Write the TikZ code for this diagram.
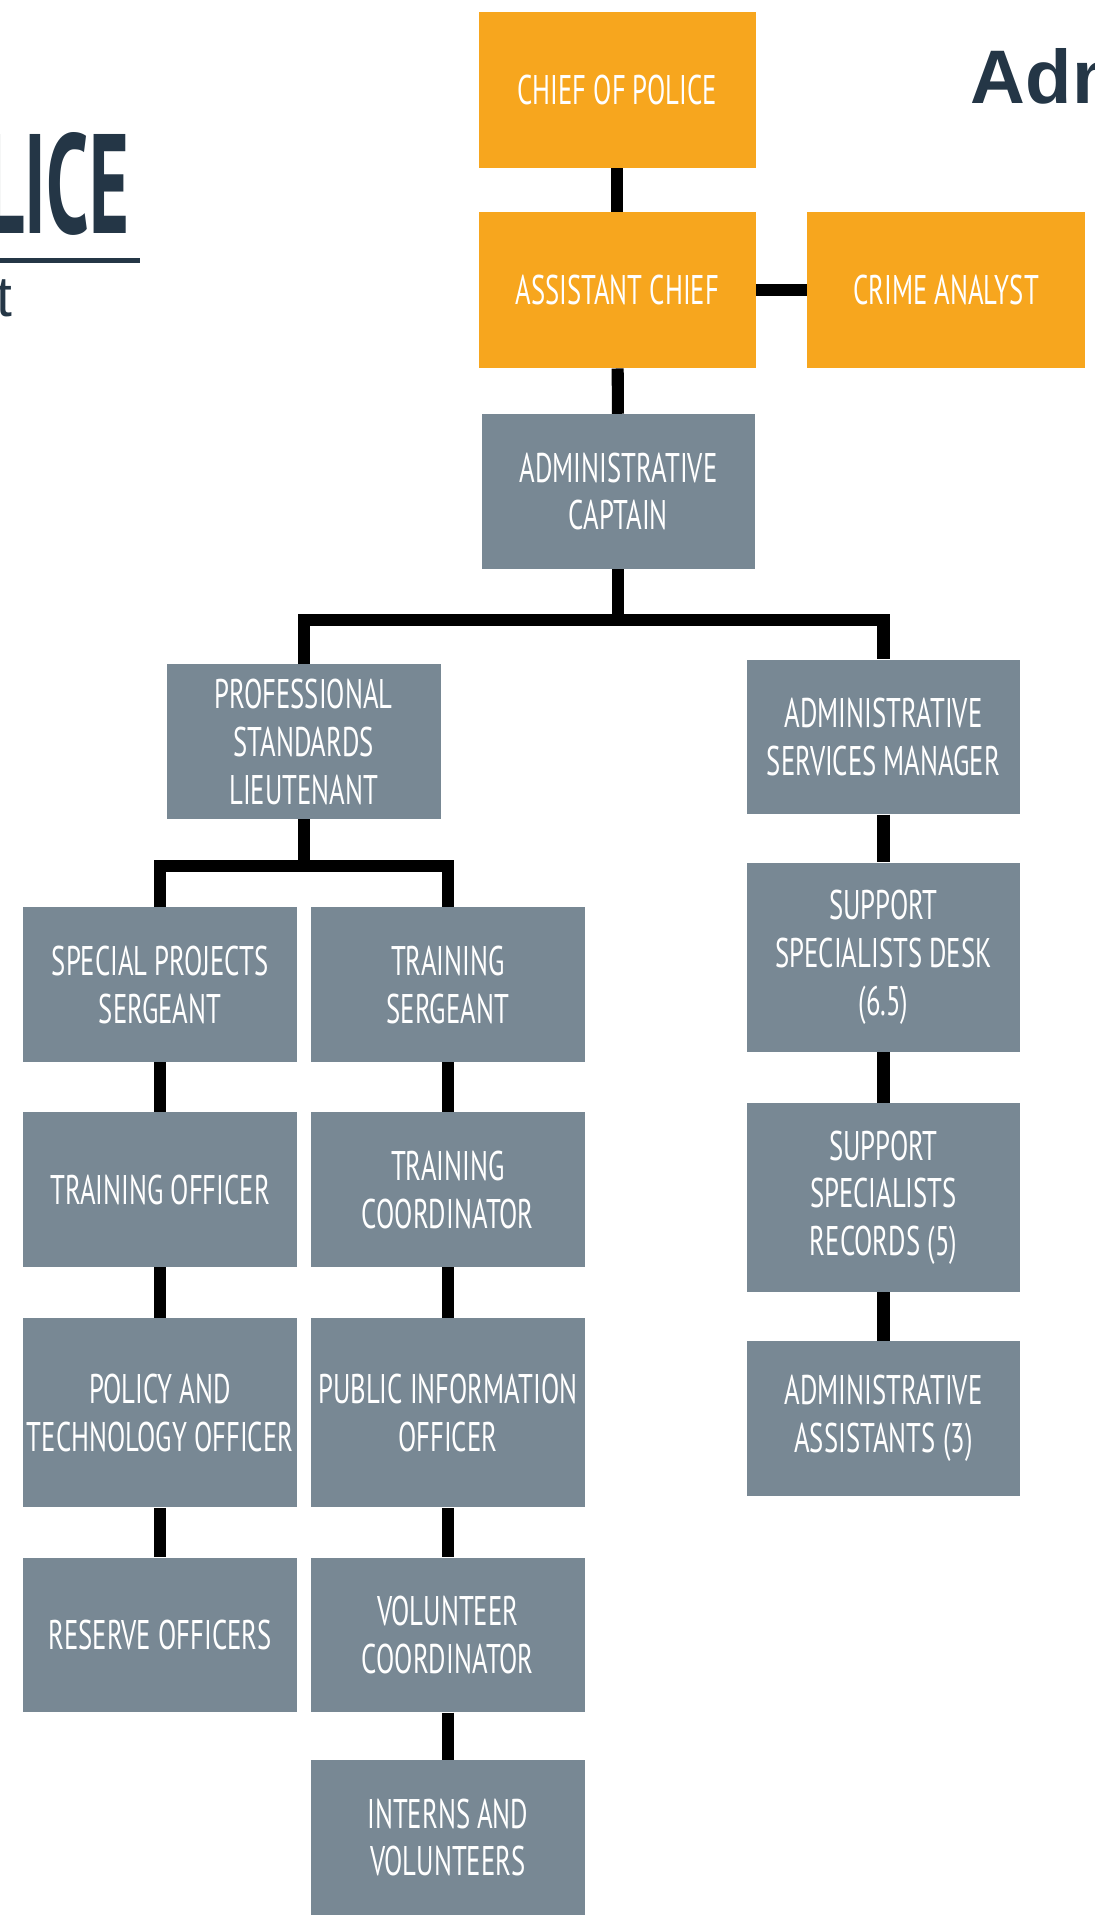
\documentclass[tikz,border=0pt]{standalone}
\usepackage{fontspec}
\setmainfont{Liberation Sans}
\newfontfamily\dinfont[FakeStretch=0.645]{PT Sans}
\newfontfamily\logofont[FakeStretch=0.54]{PT Sans}
\usetikzlibrary{positioning,calc}
\definecolor{chieforange}{HTML}{F7A61E}
\definecolor{staffgray}{HTML}{788894}
\definecolor{logonavy}{HTML}{243646}

\begin{document}
\begin{tikzpicture}[x=0.025cm, y=-0.025cm,
  unit/.style={minimum width=5.575cm, minimum height=3.15cm, inner sep=0pt,
    align=center, text=white, font=\dinfont\fontsize{24}{27.7}\selectfont},
  cmd/.style={unit, fill=chieforange, minimum width=5.65cm, minimum height=3.175cm},
  staff/.style={unit, fill=staffgray},
  tall/.style={minimum height=3.85cm},
  link/.style={line width=7pt, black}]
\useasboundingbox (0,0) rectangle (892,1568);

% Logo and title
\node[anchor=base west, inner sep=0pt, text=logonavy,
  font=\logofont\bfseries\fontsize{82}{82}\selectfont] (logo) at (-12,190) {LICE};
\draw[logonavy, line width=3pt] (0,212) -- (114,212);
\node[anchor=base west, inner sep=0pt, text=logonavy,
  font=\fontsize{33}{33}\selectfont] (dept) at (-3,258) {t};
\node[anchor=base west, inner sep=0pt, text=logonavy,
  font=\bfseries\fontsize{44}{44}\selectfont] (title) at (791,84) {Adm};

% Command staff
\node[cmd] (chief) at (503,73.5) {CHIEF OF POLICE};
\node[cmd] (asst) at (503,236.5) {ASSISTANT CHIEF};
\node[cmd] (crime) at (771,236.5) {CRIME ANALYST};
\node[staff] (captain) at (504,400.5) {ADMINISTRATIVE\\CAPTAIN};

% Second level
\node[staff] (proflt) at (247.5,604.5) {PROFESSIONAL\\STANDARDS\\LIEUTENANT};
\node[staff] (asmgr) at (720,600.5) {ADMINISTRATIVE\\SERVICES MANAGER};

% Professional standards, left column
\node[staff] (spsgt) at (130.5,802.5) {SPECIAL PROJECTS\\SERGEANT};
\node[staff] (trof) at (130.5,969.5) {TRAINING OFFICER};
\node[staff, tall] (polt) at (130.5,1151.5) {POLICY AND\\TECHNOLOGY OFFICER};
\node[staff] (res) at (130.5,1332.5) {RESERVE OFFICERS};

% Professional standards, right column
\node[staff] (trsgt) at (365,802.5) {TRAINING\\SERGEANT};
\node[staff] (trco) at (365,969.5) {TRAINING\\COORDINATOR};
\node[staff, tall] (pio) at (365,1151.5) {PUBLIC INFORMATION\\OFFICER};
\node[staff] (volco) at (365,1332.5) {VOLUNTEER\\COORDINATOR};
\node[staff] (interns) at (365,1497.5) {INTERNS AND\\VOLUNTEERS};

% Administrative services
\node[staff, tall] (ssdesk) at (720,780) {SUPPORT\\SPECIALISTS DESK\\(6.5)};
\node[staff, tall] (ssrec) at (720,976) {SUPPORT\\SPECIALISTS\\RECORDS (5)};
\node[staff] (aa) at (720,1156) {ADMINISTRATIVE\\ASSISTANTS (3)};

% Connectors
\coordinate (fork1) at (504,505);
\coordinate (fork2) at (247.5,706);
\draw[link] (chief) -- (asst);
\draw[link] (asst) -- (crime);
\draw[link] (asst) -- (captain);
\draw[link] (captain.south) -- (fork1);
\draw[link] (proflt.north) |- (fork1) -| (asmgr.north);
\draw[link] (proflt.south) -- (fork2);
\draw[link] (spsgt.north) |- (fork2) -| (trsgt.north);
\draw[link] (spsgt) -- (trof);
\draw[link] (trof) -- (polt);
\draw[link] (polt) -- (res);
\draw[link] (trsgt) -- (trco);
\draw[link] (trco) -- (pio);
\draw[link] (pio) -- (volco);
\draw[link] (volco) -- (interns);
\draw[link] (asmgr) -- (ssdesk);
\draw[link] (ssdesk) -- (ssrec);
\draw[link] (ssrec) -- (aa);
\end{tikzpicture}
\end{document}
